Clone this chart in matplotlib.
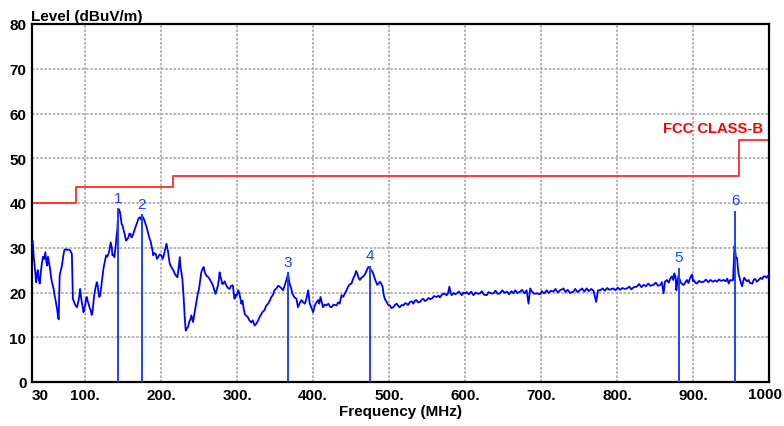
import matplotlib
matplotlib.use("Agg")
import matplotlib.pyplot as plt
from matplotlib.ticker import FixedLocator

# ---------------- data ----------------
trace_freq = [
    31, 32.3, 33.5, 35.4, 36.5, 37.6, 38.8, 40.2, 41.9, 43, 44.5, 46, 47.6, 48.7, 49.8, 51, 52, 53, 54.1, 55,
    56.3, 57.5, 58.5, 59.5, 60.7, 62.9, 64, 65.1, 66.4, 68, 69.4, 71, 72.5, 74, 76, 78, 80.3, 82.5, 83.8, 85.6,
    87, 89.1, 91.3, 92.5, 93.4, 94.5, 95.6, 97.8, 99, 100, 101, 102.2, 103.4, 104.4, 106, 107.4, 108.5, 109.6, 111.8, 113.5,
    115.3, 116.5, 117.5, 118.5, 119.7, 121.8, 124, 126, 127.5, 129, 130.6, 132, 133.6, 135, 135.8, 137, 138.4, 139.5, 140.6, 141.5,
    142.4, 143.2, 143.7, 145, 145.9, 147, 148, 149, 150.2, 152, 153.7, 155, 156.8, 158.3, 159.8, 161, 162.4, 164, 165.5, 167,
    168.6, 170, 172, 173.5, 174.7, 176, 177.3, 179, 180.8, 182.5, 184.3, 186, 187.3, 188.5, 189.5, 191, 193, 194.5, 196.1, 198,
    200.4, 202, 203.5, 205, 207, 208, 209.2, 210.3, 211.4, 213, 214.8, 216.5, 217.9, 219.5, 221.4, 223, 224.5, 225.5, 226.6, 227.9,
    229.7, 231, 232.3, 234, 235.4, 237, 238.5, 239.7, 241.9, 244, 246.3, 248, 249.8, 251.5, 252.8, 254.5, 255.9, 257.5, 259.4, 261.5,
    263.8, 266, 268.1, 270, 271.6, 273, 274.7, 276, 276.9, 278, 279, 280, 281.2, 283.5, 285.6, 288, 290, 292, 294.3, 295.5,
    296.5, 298, 299.6, 301.5, 303.1,
    305.5, 307, 308.5, 310, 312, 314, 316, 318.7, 320.5, 323, 325, 327.5, 329.5, 332, 334, 336, 338, 340.7, 343, 345,
    347, 349, 351.6, 354, 356, 358, 360.4, 362.5, 364.8, 366, 367, 368, 369, 371, 372.7, 375, 378, 380, 382, 384.6,
    387, 389, 391, 393.4, 394.5, 395.6, 398, 400, 402.2, 404.5, 406.6, 408, 409.7, 411.5, 413, 415, 417.6, 420, 422, 424,
    427, 430.8, 433, 435, 437.4, 439.5, 441.8, 444, 446, 448, 450.5, 452.5, 455, 456.5, 458, 460, 461.5, 463.5, 466, 468,
    470, 471.5, 472.5, 474.7, 476, 478, 479.5, 481, 482.5, 484.4, 486, 488, 489.5, 491.4, 493, 494.5, 496.7, 498.5, 501, 503,
    505.5, 508, 510, 512, 514, 516.5, 518.7, 521, 523, 525, 527.5, 530, 532, 534, 536, 538, 540.7, 543, 545, 547,
    549.5, 552, 554, 556, 559, 562.6, 565, 567, 569, 572, 575.8, 577.5, 579.3, 581, 582.4, 585, 587, 589, 592, 595.6,
    598, 600, 602, 605, 608, 611, 614, 617, 619.8, 622, 625, 628.6, 631, 634, 637.4, 640, 643, 646, 649, 652,
    655, 658, 661, 663.7, 666, 669, 672.5, 675, 678, 681, 683.5, 685.7, 688, 691, 694.5,
    698.7, 701, 704, 707.5, 710, 713, 716, 719, 722, 725, 729.5, 732, 735, 738, 742.6, 745, 748, 751, 754, 757,
    760, 763, 766, 769, 772.5, 775, 777.8, 781, 784, 787, 790, 793, 795, 798, 801, 804, 807, 810, 813, 816,
    819, 822, 826, 829, 832, 835, 838, 841, 844, 848, 851, 854, 857, 859, 861.3, 863, 865.7, 868, 870, 872.3,
    874, 875.4, 877, 878, 879.5, 881, 883.3, 885.5, 887.7, 890, 892, 894, 896, 898.7, 900, 901, 903, 905, 908, 911,
    914, 917, 920, 923, 926, 929, 931.6, 934, 937, 940.4, 943, 945, 947, 949, 951, 952.7, 954.5, 955.5, 956.5, 958,
    959, 960, 961, 962, 963.5, 964.6, 966, 967.5, 969, 971, 973, 975, 978, 980, 982, 984, 986.6, 989, 991, 993,
    995, 997, 999.8,
]
trace_level = [
    31.5, 28, 26, 22.3, 24, 25, 23, 22, 25, 26.5, 28, 27.5, 29, 27, 26, 28, 27, 26, 25, 23.5,
    22.3, 21.5, 20.8, 19.5, 18.6, 16.4, 15, 14, 23.8, 25, 26, 28, 29.4, 29.7, 29.5, 29.6, 29.4, 28.6, 18.6, 17.8,
    17.2, 16.7, 18.2, 19.5, 20.8, 19, 17.8, 15.6, 16.5, 17.1, 18.5, 19, 18, 17.5, 16.5, 16, 15, 15.6, 19.3, 21,
    22.3, 21.5, 20, 19, 19.3, 22.3, 25.3, 27, 28.3, 28, 28.6, 29.5, 31.2, 30, 28.3, 28.5, 27.9, 29.5, 31.2, 33,
    34.2, 37, 38.7, 38.3, 37.9, 36.5, 35.3, 35, 34.2, 33, 31.6, 31.8, 32.3, 33.2, 33, 32.3, 32.7, 33.5, 34.2, 35,
    35.7, 36.5, 36.8, 36.3, 37.2, 36.8, 36.4, 35.5, 34.6, 33.5, 32.3, 31.5, 30.5, 29.5, 28.3, 28.8, 28.6, 27.5, 27.9, 28.5,
    28.3, 27.5, 28.3, 29.5, 30.9, 30, 29, 27.5, 26.4, 25.8, 25.3, 24.8, 24.2, 23.8, 23.4, 25.5, 27.9, 25.5, 24.5, 23,
    18.6, 14.5, 11.5, 12, 12.3, 13.5, 14, 14.9, 13.4, 15.5, 17.8, 19.5, 20.8, 23, 24.5, 25.3, 25.7, 24.5, 23.8, 23.5,
    23, 22.3, 21.6, 20.5, 19.7, 20.5, 21.6, 23, 24.5, 23.5, 23, 22, 21.9, 22.5, 21.6, 21, 20.8, 21.5, 21.6, 20,
    18.6, 19.5, 19.3, 20.5, 19.7,
    17.5, 18.2, 16.5, 15.2, 14.8, 14.5, 13.8, 13.3, 13.8, 12.6, 13, 13.7, 14.5, 15.2, 15.8, 16, 17, 17.5, 18.2, 19,
    19.4, 20.5, 20.9, 21.5, 21.3, 21, 20.5, 21.5, 22.8, 23.5, 24.3, 23, 22, 21, 19.8, 19, 18.6, 16.7, 17.5, 18.3,
    17.8, 17.5, 18.5, 20.5, 19, 17.5, 16.5, 15.6, 17.1, 17.8, 18.3, 17.5, 19, 17.8, 16.7, 17.3, 17.1, 17.5, 16.9, 16.7,
    17.3, 17.1, 17.8, 17.5, 19.4, 19, 19.8, 20.5, 21.3, 21.8, 22, 23, 23.9, 24.8, 24.3, 23.2, 22.8, 23.3, 23.6, 24,
    24.7, 25.3, 25.7, 25.5, 25, 24.7, 24, 23.2, 22.5, 21.7, 22, 22.4, 22, 21.3, 19.4, 18.5, 17.9, 17.3, 17.1, 16.5,
    16.7, 17.3, 17.5, 17, 16.7, 17.2, 17.1, 17.6, 17.5, 17.2, 17.9, 18, 17.5, 18.2, 18.3, 17.8, 17.9, 18.4, 18.6, 18.1,
    18.3, 18.8, 18.5, 18.6, 19.2, 19, 19.3, 18.9, 19.4, 19.8, 19.4, 19.8, 21.3, 19.9, 19.4, 19.9, 19.6, 19.8, 20.2, 19.4,
    20, 19.8, 20.1, 19.6, 20.2, 19.4, 20, 19.7, 19.8, 20.3, 19.5, 19.4, 20.1, 19.8, 19.8, 20.4, 19.7, 19.8, 20.5, 19.9,
    20.2, 19.6, 20.3, 19.8, 20.5, 19.9, 20.2, 20.6, 19.8, 20.5, 17.5, 20.9, 20.2, 19.7, 19.8,
    19.6, 20.3, 19.8, 20.5, 19.9, 20.4, 20.2, 20.8, 20, 20.5, 20.9, 20.1, 20.6, 19.9, 20.2, 20.8, 20.1, 20.5, 20.9, 20.2,
    20.9, 20.3, 20.8, 20.4, 17.9, 20.5, 20.5, 20.9, 20.4, 21, 20.6, 20.8, 20.9, 20.5, 21.1, 20.6, 21, 20.8, 20.9, 21.3,
    20.7, 21.2, 21.3, 21.9, 21.2, 21.7, 21.4, 22, 21.5, 21.7, 22.2, 21.5, 21.7, 22.3, 19.8, 22.4, 22.8, 22.2, 23.1, 23.6,
    22.8, 24.3, 23.5, 20.5, 22.5, 23.8, 22.4, 21.9, 21.7, 22.3, 22.8, 22.1, 23.2, 24, 22.5, 22.8, 22.2, 22, 22.6, 22.3,
    22.4, 22.9, 22.3, 22.8, 22.4, 22.7, 22.4, 22.9, 22.6, 22.8, 22.5, 23.1, 22, 22.8, 22.7, 22.8, 30.4, 29.5, 27.7, 27.7,
    25.5, 24, 23.5, 22.8, 21.9, 21.4, 22.5, 23.3, 22.9, 22.5, 22.8, 22.1, 22, 22.9, 23, 22.4, 22.8, 23.3, 23, 23.6,
    23.6, 23.3, 24,
]

limit_freq = [30, 88, 88, 216, 216, 960, 960, 1000]
limit_level = [40, 40, 43.5, 43.5, 46, 46, 54, 54]

marker_ids = ["1", "2", "3", "4", "5", "6"]
marker_freq = [143.7, 174.7, 367, 474.7, 881, 955.8]
marker_level = [38.8, 37.5, 24.5, 26, 25.5, 38.3]

x_ticks = [30, 100, 200, 300, 400, 500, 600, 700, 800, 900, 1000]
x_tick_labels = ["30", "100.", "200.", "300.", "400.", "500.", "600.", "700.", "800.", "900.", "1000"]
y_ticks = [0, 10, 20, 30, 40, 50, 60, 70, 80]

# ---------------- figure ----------------
plt.rcParams['font.family'] = ['Liberation Sans', 'DejaVu Sans']
W, H = 784, 427
fig = plt.figure(figsize=(W / 100, H / 100), dpi=100)
ax = fig.add_axes([32 / W, 1 - 383 / H, (769 - 32) / W, (383 - 25) / H])

ax.set_xlim(30, 1000)
ax.set_ylim(0, 80)

# grid
grid_kw = dict(color='#a8a8a8', linewidth=1.2, linestyle=(0, (1.5, 1)), zorder=0)
for xv in x_ticks[1:-1]:
    ax.axvline(xv, **grid_kw)
for yv in y_ticks[1:-1]:
    ax.axhline(yv, **grid_kw)

# limit line
ax.plot(limit_freq, limit_level, color='#ff2a2a', linewidth=1.3, zorder=2)
ax.text(992, 56.8, "FCC CLASS-B", color='#ff0000', fontsize=10.6, fontweight='bold',
        ha='right', va='center', zorder=5)

# trace
ax.plot(trace_freq, trace_level, color='#0000ff', linewidth=1.3, zorder=3)

# markers
for mid, mf, ml in zip(marker_ids, marker_freq, marker_level):
    ax.vlines(mf, 0, ml, color='#2040ff', linewidth=1.4, zorder=4)
    ax.text(mf, ml + 0.8, mid, color='#2040ff', fontsize=11, ha='center', va='bottom', zorder=5)

# axes styling
ax.xaxis.set_major_locator(FixedLocator(x_ticks))
ax.set_xticklabels(x_tick_labels[:-1] + [""])
ax.set_yticks(y_ticks)
ax.tick_params(axis='both', length=0, labelsize=11, pad=4)
for lbl in ax.get_xticklabels() + ax.get_yticklabels():
    lbl.set_fontweight('bold')
ax.get_xticklabels()[0].set_horizontalalignment('left')
# last tick label, placed so it ends just inside the picture edge
ax.annotate(x_tick_labels[-1], xy=(x_ticks[-1], 0), xycoords='data',
            xytext=(13, -5), textcoords='offset pixels', ha='right', va='top',
            fontsize=11, fontweight='bold', annotation_clip=False)
for s in ax.spines.values():
    s.set_color('black')
    s.set_linewidth(1.6)

ax.set_xlabel("Frequency (MHz)", fontsize=11, fontweight='bold', labelpad=2)
fig.text(31 / W, 1 - 21 / H, "Level (dBuV/m)", fontsize=11, fontweight='bold',
         ha='left', va='baseline')

fig.savefig("out.png", dpi=100)
